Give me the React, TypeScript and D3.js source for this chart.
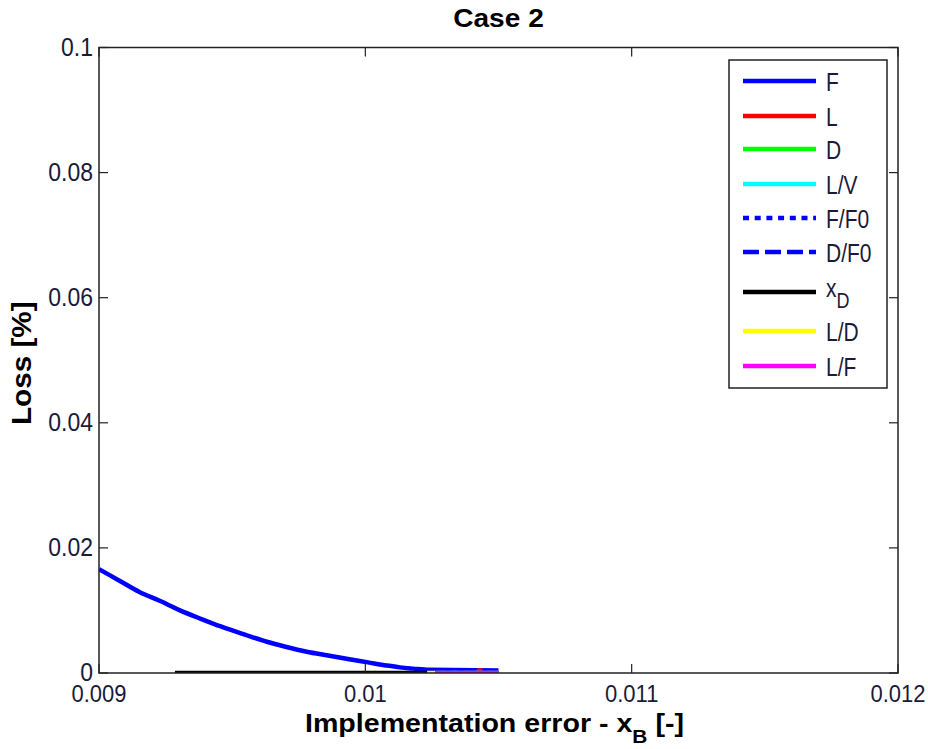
import React from "react";
import * as d3 from "d3";

const W = 928;
const H = 749;

const title = "Case 2";
const xTicks = [0.009, 0.01, 0.011, 0.012];
const xTickLabels = ["0.009", "0.01", "0.011", "0.012"];
const yTicks = [0, 0.02, 0.04, 0.06, 0.08, 0.1];
const yTickLabels = ["0", "0.02", "0.04", "0.06", "0.08", "0.1"];

// series values [x, loss]
const seriesF: [number, number][] = [
  [0.009, 0.0166], [0.009075, 0.0148], [0.00915, 0.013], [0.00923, 0.0115],
  [0.0093, 0.0101], [0.00938, 0.0087], [0.00946, 0.0074], [0.00955, 0.0061],
  [0.00963, 0.005], [0.0097, 0.0042], [0.00978, 0.0034], [0.00986, 0.0028],
  [0.00994, 0.0022], [0.01001, 0.0017], [0.01008, 0.0012], [0.01013, 0.0009],
  [0.01018, 0.0007], [0.01024, 0.0005], [0.0105, 0.0004],
];
const seriesL: [number, number][] = [[0.01042, 0.0004], [0.01044, 0.0004]];
const seriesD: [number, number][] = [[0.01026, 0], [0.0105, 0]];
const seriesLV: [number, number][] = [[0.01026, 0], [0.0105, 0]];
const seriesFF0: [number, number][] = [[0.01026, 0], [0.0105, 0]];
const seriesDF0: [number, number][] = [[0.01026, 0], [0.0105, 0]];
const seriesXD: [number, number][] = [[0.009285, 0], [0.01024, 0]];
const seriesLD: [number, number][] = [[0.010232, 0], [0.010262, 0]];
const seriesLF: [number, number][] = [[0.010262, 0], [0.0105, 0]];

const legendNames = ["F", "L", "D", "L/V", "F/F0", "D/F0", "x_D", "L/D", "L/F"];
const legendColors = ["#0000ff", "#ff0000", "#00ff00", "#00ffff", "#0000ff", "#0000ff", "#000000", "#ffff00", "#ff00ff"];
const legendDash = ["", "", "", "", "6 5.7", "16 6", "", "", ""];
const allSeries = [seriesF, seriesL, seriesD, seriesLV, seriesFF0, seriesDF0, seriesXD, seriesLD, seriesLF];

const legendRowY = [81, 116, 149, 184, 218, 252, 292, 331, 366];

export default function App() {
  const left = 99, right = 898, top = 47.5, bottom = 673;
  const x = d3.scaleLinear().domain([0.009, 0.012]).range([left, right]);
  const y = d3.scaleLinear().domain([0, 0.1]).range([bottom, top]);
  const lineGen = d3.line<[number, number]>().x((d) => x(d[0])).y((d) => y(d[1])).curve(d3.curveMonotoneX);
  const font = "'Liberation Sans', Arial, sans-serif";
  const tickLen = 9;
  const axisColor = "#222";
  const textColor = "#1a1a3a";

  return (
    <svg width={W} height={H} style={{ position: "absolute", left: 0, top: 0, background: "#fff" }} fontFamily={font}>
      <rect x={0} y={0} width={W} height={H} fill="#fff" />
      <defs>
        <clipPath id="plotclip">
          <rect x={left} y={top} width={right - left} height={bottom - top} />
        </clipPath>
      </defs>
      {/* series */}
      <g clipPath="url(#plotclip)">
        {allSeries.map((s, i) => (
          <path key={i} d={lineGen(s) || ""} fill="none" stroke={legendColors[i]} strokeWidth={4.5}
            strokeDasharray={legendDash[i] || undefined} />
        ))}
      </g>
      {/* axes box */}
      <rect x={left} y={top} width={right - left} height={bottom - top} fill="none" stroke={axisColor} strokeWidth={1.5} />
      {xTicks.map((t, i) => (
        <g key={"x" + i}>
          <line x1={x(t)} x2={x(t)} y1={bottom} y2={bottom - tickLen} stroke={axisColor} strokeWidth={1.2} />
          <line x1={x(t)} x2={x(t)} y1={top} y2={top + tickLen} stroke={axisColor} strokeWidth={1.2} />
          <text transform={`translate(${x(t)},702) scale(1,1.12)`} textAnchor="middle" fontSize={22} fill={textColor}>{xTickLabels[i]}</text>
        </g>
      ))}
      {yTicks.map((t, i) => (
        <g key={"y" + i}>
          <line x1={left} x2={left + tickLen} y1={y(t)} y2={y(t)} stroke={axisColor} strokeWidth={1.2} />
          <line x1={right} x2={right - tickLen} y1={y(t)} y2={y(t)} stroke={axisColor} strokeWidth={1.2} />
          <text transform={`translate(93,${y(t) + 8}) scale(1,1.12)`} textAnchor="end" fontSize={23} fill={textColor}>{yTickLabels[i]}</text>
        </g>
      ))}
      {/* title */}
      <text transform={`translate(${(left + right) / 2},27) scale(1.08,1)`} textAnchor="middle" fontSize={26} fontWeight="bold" fill="#000">{title}</text>
      {/* x label */}
      <text transform="translate(305,732) scale(1.1,1)" fontSize={26} fontWeight="bold" fill="#000">
        Implementation error - x<tspan dy={11} fontSize={19}>B</tspan><tspan dy={-11}> [-]</tspan>
      </text>
      {/* y label */}
      <text transform={`translate(31, ${(top + bottom) / 2 + 3}) rotate(-90) scale(1.1,1)`} textAnchor="middle" fontSize={27} fontWeight="bold" fill="#000">Loss [%]</text>
      {/* legend */}
      <rect x={729} y={60} width={158} height={328} fill="#fff" stroke={axisColor} strokeWidth={1.5} />
      {legendNames.map((n, i) => (
        <g key={"l" + i}>
          <line x1={743} x2={816} y1={legendRowY[i]} y2={legendRowY[i]} stroke={legendColors[i]} strokeWidth={4.5}
            strokeDasharray={legendDash[i] || undefined} />
          {n === "x_D" ? (
            <text transform="translate(826,297) scale(1,1.2)" fontSize={21} fill={textColor}>x<tspan dy={9} fontSize={18}>D</tspan></text>
          ) : (
            <text transform={`translate(826,${legendRowY[i] + 9.5}) scale(1,1.2)`} fontSize={21} fill={textColor}>{n}</text>
          )}
        </g>
      ))}
    </svg>
  );
}
